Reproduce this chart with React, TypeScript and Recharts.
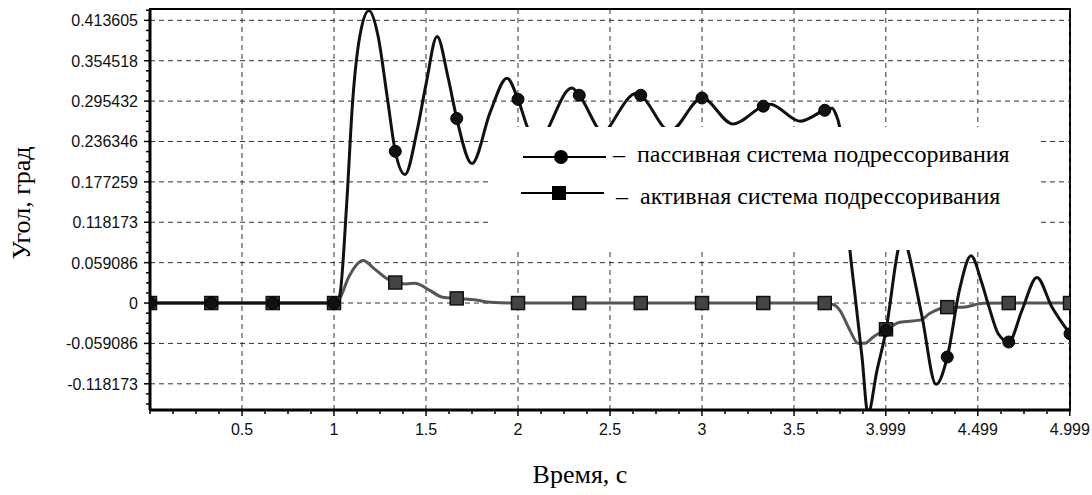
import React from 'react';
import { LineChart, Line, XAxis, YAxis, ReferenceLine, ReferenceArea, Legend } from 'recharts';

// пассивная система подрессоривания
const passiveTime = [
  0, 0.333, 0.667, 1.0, 1.03, 1.07, 1.1, 1.14, 1.19, 1.24, 1.29, 1.333, 1.386, 1.45, 1.5, 1.56, 1.62,
  1.667, 1.75, 1.85, 1.94, 2.0, 2.054, 2.11, 2.163, 2.293, 2.333, 2.435, 2.463, 2.49, 2.645, 2.667,
  2.826, 3.0, 3.168, 3.333, 3.37, 3.533, 3.667, 3.707, 3.725, 3.75, 3.804, 3.83, 3.87, 3.902, 3.95,
  4.0, 4.065, 4.092, 4.12, 4.196, 4.272, 4.333, 4.4, 4.462, 4.52, 4.56, 4.61, 4.667, 4.74, 4.82, 4.9, 5.0,
];
const passiveAngle = [
  0, 0, 0, 0, 0.01, 0.15, 0.29, 0.39, 0.428, 0.39, 0.3, 0.222, 0.188, 0.25, 0.32, 0.39, 0.33,
  0.27, 0.204, 0.28, 0.329, 0.298, 0.255, 0.225, 0.255, 0.3145, 0.304, 0.255, 0.245, 0.255, 0.307, 0.304,
  0.252, 0.3, 0.262, 0.288, 0.291, 0.266, 0.282, 0.285, 0.278, 0.255, 0.077, 0.015, -0.08, -0.162, -0.1,
  -0.04, 0.077, 0.105, 0.077, -0.02, -0.119, -0.079, 0.02, 0.069, 0.03, -0.006, -0.045, -0.057, -0.01, 0.0375, -0.005, -0.045,
];

// активная система подрессоривания
const activeTime = [
  0, 0.333, 0.667, 1.0, 1.03, 1.08, 1.158, 1.22, 1.28, 1.333, 1.39, 1.44, 1.52, 1.59, 1.667, 1.78, 1.85,
  2.0, 2.333, 2.667, 3.0, 3.333, 3.667, 3.72, 3.75, 3.804, 3.848, 3.886, 3.929, 4.0, 4.076, 4.185, 4.239,
  4.333, 4.418, 4.527, 4.667, 5.0,
];
const activeAngle = [
  0, 0, 0, 0, 0.006, 0.038, 0.0623, 0.05, 0.037, 0.03, 0.028, 0.029, 0.0185, 0.0085, 0.0068, 0.004, 0.001,
  0, 0, 0, 0, 0, 0, -0.003, -0.011, -0.04, -0.0588, -0.0588, -0.05, -0.0384, -0.028, -0.025, -0.015,
  -0.006, -0.006, -0.0004, 0, 0,
];

const markerTimes = [0, 0.333, 0.667, 1.0, 1.333, 1.667, 2.0, 2.333, 2.667, 3.0, 3.333, 3.667, 4.0, 4.333, 4.667, 5.0];

const xMajorTicks = [0.5, 1, 1.5, 2, 2.5, 3, 3.5, 3.999, 4.499, 4.999];
const yMajorTicks = [-0.118173, -0.059086, 0, 0.059086, 0.118173, 0.177259, 0.236346, 0.295432, 0.354518, 0.413605];

const xDomain = [0, 5];
const yDomain = [-0.1565, 0.4302];

const legendItems = [
  { name: 'пассивная система подрессоривания', marker: 'circle' },
  { name: 'активная система подрессоривания', marker: 'square' },
];

const passiveData = passiveTime.map((t, i) => ({ t, v: passiveAngle[i] }));
const activeData = activeTime.map((t, i) => ({ t, v: activeAngle[i] }));

const near = (a: number, list: number[], eps: number) => list.some((b) => Math.abs(a - b) < eps);

// minor ticks: 4 divisions between labelled ticks
const xMinorTicks = Array.from({ length: 41 }, (_, i) => i * 0.125).filter((v) => !near(v, xMajorTicks, 0.01));
const yStep = 0.059086 / 4;
const yMinorTicks = Array.from({ length: 40 }, (_, i) => (i - 10) * yStep).filter(
  (v) => v > yDomain[0] && v < yDomain[1] && !near(v, yMajorTicks, 0.001)
);
const xTicks = [...xMinorTicks, ...xMajorTicks].sort((a, b) => a - b);
const yTicks = [...yMinorTicks, ...yMajorTicks].sort((a, b) => a - b);

const SANS = '"Liberation Sans", Arial, sans-serif';
const SERIF = '"Liberation Serif", "Times New Roman", serif';

function XTick(props: any) {
  const { x, y, payload } = props;
  const major = near(payload.value, xMajorTicks, 1e-6);
  return (
    <g>
      <line x1={x} x2={x} y1={y} y2={y + (major ? 6 : 4)} stroke="#000" strokeWidth={1.5} />
      {major && (
        <text x={x} y={y + 25} textAnchor="middle" fontSize={16} fill="#111" fontFamily={SANS}>
          {String(payload.value)}
        </text>
      )}
    </g>
  );
}

function YTick(props: any) {
  const { x, y, payload } = props;
  const major = near(payload.value, yMajorTicks, 1e-7);
  return (
    <g>
      <line x1={x - (major ? 6 : 4)} x2={x} y1={y} y2={y} stroke="#000" strokeWidth={1.5} />
      {major && (
        <text x={x - 12} y={y + 6} textAnchor="end" fontSize={16} fill="#111" fontFamily={SANS}>
          {String(payload.value)}
        </text>
      )}
    </g>
  );
}

function PassiveDot(props: any) {
  const { cx, cy, payload, index } = props;
  if (!near(payload.t, markerTimes, 0.002)) return <g key={`p${index}`} />;
  return <circle key={`p${index}`} cx={cx} cy={cy} r={6} fill="#111" stroke="#000" strokeWidth={1} />;
}

function ActiveDot(props: any) {
  const { cx, cy, payload, index } = props;
  if (!near(payload.t, markerTimes, 0.002)) return <g key={`a${index}`} />;
  return <rect key={`a${index}`} x={cx - 6.5} y={cy - 6.5} width={13} height={13} fill="#444" stroke="#111" strokeWidth={1.5} />;
}

function LegendBox() {
  return (
    <div style={{ position: 'relative', width: '100%', height: '100%', fontFamily: SERIF, fontSize: 24, color: '#000' }}>
      {legendItems.map((item, i) => (
        <div key={item.name} style={{ position: 'absolute', left: 0, top: 30 + i * 36 - 10, height: 20, width: '100%' }}>
          <svg width={90} height={20} style={{ position: 'absolute', left: 34 + (i === 1 ? -2 : 0), top: 0 }}>
            <line x1={1} x2={84} y1={10} y2={10} stroke="#000" strokeWidth={2} />
            {item.marker === 'circle' ? (
              <circle cx={39} cy={10} r={7} fill="#000" />
            ) : (
              <rect x={32} y={3} width={14} height={14} fill="#000" />
            )}
          </svg>
          <span
            style={{
              position: 'absolute',
              left: i === 0 ? 125 : 128,
              top: i === 0 ? -5 : 1,
              lineHeight: '24px',
              whiteSpace: 'pre',
            }}
          >
            {'–  '}
            {item.name}
          </span>
        </div>
      ))}
    </div>
  );
}

export default function App() {
  return (
    <div style={{ position: 'relative', width: 1092, height: 495, background: '#fff' }}>
      <style>{'body{margin:0;background:#fff}'}</style>
      <LineChart width={1092} height={495} margin={{ top: 9, right: 22, bottom: 0, left: 0 }}>
        <XAxis
          dataKey="t"
          type="number"
          domain={xDomain}
          allowDataOverflow
          ticks={xTicks}
          interval={0}
          tick={(p: any) => <XTick {...p} />}
          tickLine={false}
          tickSize={0}
          tickMargin={0}
          height={85}
          axisLine={{ stroke: '#000', strokeWidth: 3 }}
        />
        <YAxis
          type="number"
          domain={yDomain}
          allowDataOverflow
          ticks={yTicks}
          interval={0}
          tick={(p: any) => <YTick {...p} />}
          tickLine={false}
          tickSize={0}
          tickMargin={0}
          width={150}
          axisLine={{ stroke: '#000', strokeWidth: 3 }}
        />
        {xMajorTicks.map((t) => (
          <ReferenceLine key={`gx${t}`} x={t} stroke="#333" strokeWidth={1} strokeDasharray="5 4" />
        ))}
        {yMajorTicks.map((t) => (
          <ReferenceLine key={`gy${t}`} y={t} stroke="#333" strokeWidth={1} strokeDasharray="5 4" />
        ))}
        <ReferenceArea x1={xDomain[0]} x2={xDomain[1]} y1={yDomain[0]} y2={yDomain[1]} fill="none" stroke="#000" strokeWidth={2} />
        <Line
          data={activeData}
          dataKey="v"
          name="активная система подрессоривания"
          type="monotone"
          stroke="#555"
          strokeWidth={3}
          dot={(p: any) => <ActiveDot {...p} />}
          isAnimationActive={false}
        />
        <Line
          data={passiveData}
          dataKey="v"
          name="пассивная система подрессоривания"
          type="monotone"
          stroke="#111"
          strokeWidth={3}
          dot={(p: any) => <PassiveDot {...p} />}
          isAnimationActive={false}
        />
        <Legend
          layout="horizontal"
          verticalAlign="middle"
          align="center"
          content={() => <LegendBox />}
          wrapperStyle={{ position: 'absolute', left: 488, top: 127, width: 552, height: 123, background: '#fff' }}
        />
      </LineChart>
      <div
        style={{
          position: 'absolute',
          left: 580,
          top: 462,
          transform: 'translateX(-50%)',
          fontFamily: SERIF,
          fontSize: 26,
          lineHeight: '26px',
          whiteSpace: 'nowrap',
        }}
      >
        Время, с
      </div>
      <div
        style={{
          position: 'absolute',
          left: 22,
          top: 203,
          transform: 'translate(-50%, -50%) rotate(-90deg)',
          fontFamily: SERIF,
          fontSize: 26,
          lineHeight: '26px',
          whiteSpace: 'nowrap',
        }}
      >
        Угол, град
      </div>
    </div>
  );
}
